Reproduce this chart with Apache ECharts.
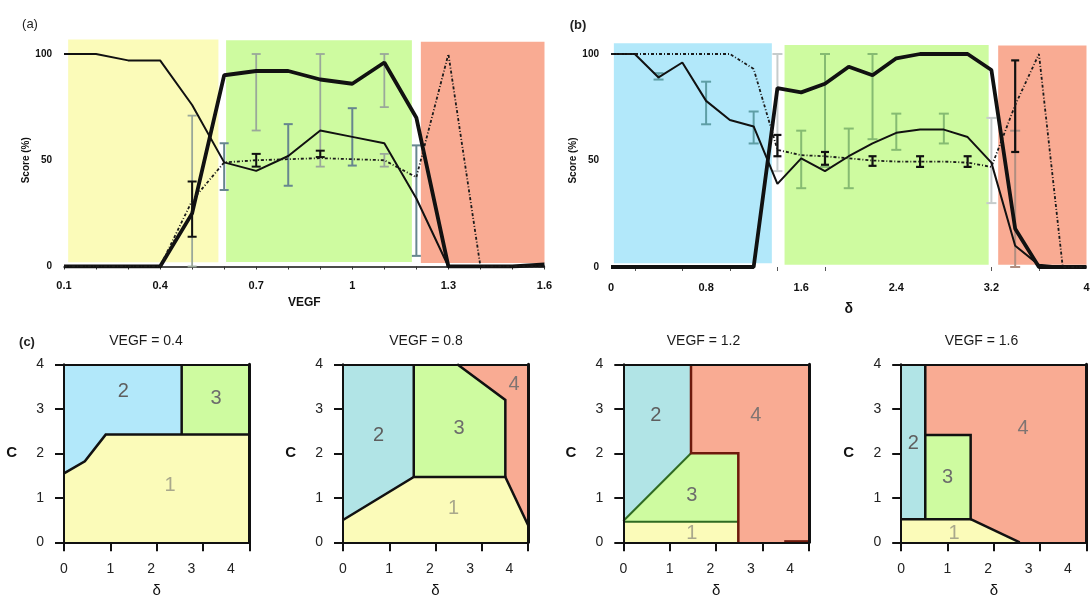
<!DOCTYPE html>
<html><head><meta charset="utf-8">
<script src="https://cdn.jsdelivr.net/npm/echarts@6/dist/echarts.min.js"></script>
<style>html,body{margin:0;padding:0;background:#fff}#c{width:1091px;height:603px}</style>
</head><body><div id="c"></div>
<script>
// ---------- Panel (a): scores vs VEGF ----------
const aVegf   = [0.1,0.2,0.3,0.4,0.5,0.6,0.7,0.8,0.9,1.0,1.1,1.2,1.3,1.4,1.5,1.6];
const aThin   = [100,100,97,97,76,49,45,52,64,61,58,32,0,0,0,0];
const aThick  = [0,0,0,0,25,90,92,92,88,86,96,70,0,0,0,1];
const aDotted = [0,0,0,0,31,49,50,50.5,51,50.5,50,42,100,0,0,0];
// outcome class, x from, x to, y from, y to
const aBands  = [[1,0.113,0.582,2,106.8],[3,0.606,1.186,2.1,106.5],[4,1.214,1.6,1.6,105.8]];
// error bars: [x, low, high]
const aErrLight = [[0.5,0,71],[0.7,64,100],[0.9,47,100],[1.1,75,100],[1.1,47,53]];
const aErrSlate = [[0.6,36,58],[0.8,38,67],[1.0,47.5,74.5],[1.2,5,57]];
const aErrBlack = [[0.5,14,40],[0.7,47,53],[0.9,51.5,54.5]];
const aTickLabels = [0.1,0.4,0.7,1,1.3,1.6];

// ---------- Panel (b): scores vs delta ----------
const bDelta  = [0,0.2,0.4,0.6,0.8,1.0,1.2,1.4,1.6,1.8,2.0,2.2,2.4,2.6,2.8,3.0,3.2,3.4,3.6,3.8,4.0];
const bThin   = [100,100,89,96,78,69,66,39,51,45,52,58,63,64.5,64.5,61,49,10,1,0,0];
const bThick  = [0,0,0,0,0,0,0,84,82,86,94,90,98,100,100,100,92.5,18,0,0,0];
const bDotted = [100,100,100,100,100,100,93,55,52.5,52,51,50,49.5,49.5,49.5,49,47,76,100,0,0];
const bBands  = [[2,0.024,1.353,1.8,105],[3,1.46,3.177,1,104.2],[4,3.257,4.0,1,104]];
const bErrTeal  = [[0.4,88,91],[0.8,67,87],[1.2,58,73]];
const bErrLight = [[1.4,45,100],[3.2,30,70]];
const bErrGreen = [[1.6,37,64],[1.8,47,100],[2.0,37,65],[2.2,60,100],[2.4,55,72],[2.8,58,72]];
const bErrBlack = [[1.4,52,62],[1.8,48,54],[2.2,47.5,52],[2.6,47,52],[3.0,47,52],[3.4,54,97]];
const bErrMuted = [[3.4,0,64]];
const bTickLabels = [0,0.8,1.6,2.4,3.2,4];
const bTickMarks  = [0.2,0.6,1.0,1.4,1.8,3.2,3.6];

// ---------- Panel (c): outcome regions in (delta, C) ----------
const cTitles = ['VEGF = 0.4','VEGF = 0.8','VEGF = 1.2','VEGF = 1.6'];
const cLabelPos  = [0,1,1.88,2.75,3.6];
const cLabelText = ['0','1','2','3','4'];
const c1Regions = [
  [1, [[0,0],[4,0],[4,2.42],[0.9,2.42],[0.45,1.82],[0,1.55]]],
  [2, [[0,1.55],[0.45,1.82],[0.9,2.42],[2.54,2.42],[2.54,4],[0,4]]],
  [3, [[2.54,2.42],[4,2.42],[4,4],[2.54,4]]]
];
const c1Borders = [[[0,1.55],[0.45,1.82],[0.9,2.42],[4,2.42]], [[2.54,2.42],[2.54,4]]];
const c1Labels = [[1,2.29,1.27],[2,1.28,3.38],[3,3.28,3.24]];

const c2Regions = [
  [1, [[0,0],[4,0],[4,0.39],[3.51,1.47],[1.53,1.47],[0,0.5]]],
  [2, [[0,0.5],[1.53,1.47],[1.53,4],[0,4]]],
  [3, [[1.53,1.47],[3.51,1.47],[3.51,3.2],[2.47,4],[1.53,4]]],
  [4, [[2.47,4],[4,4],[4,0.39],[3.51,1.47],[3.51,3.2]]]
];
const c2Borders = [[[0,0.5],[1.53,1.47],[3.51,1.47],[4,0.39]], [[1.53,1.47],[1.53,4]], [[2.47,4],[3.51,3.2],[3.51,1.47]]];
const c2Labels = [[1,2.39,0.76],[2,0.77,2.41],[3,2.51,2.56],[4,3.7,3.54]];

const c3Regions = [
  [1, [[0,0],[2.48,0],[2.48,0.46],[0,0.46]]],
  [3, [[0,0.46],[2.48,0.46],[2.48,2.0],[1.46,2.0]]],
  [2, [[0,0.46],[1.46,2.0],[1.46,4],[0,4]]],
  [4, [[1.46,4],[4,4],[4,0],[2.48,0],[2.48,2.0],[1.46,2.0]]]
];
const c3BordersGreen = [[[0,0.48],[1.46,2.0]], [[0,0.46],[2.48,0.46]]];
const c3BordersRed   = [[[1.46,4],[1.46,2.0],[2.48,2.0],[2.48,0]], [[3.47,0.02],[4,0.02]]];
const c3Labels = [[1,1.48,0.2],[2,0.7,2.86],[3,1.48,1.06],[4,2.86,2.86]];

const c4Regions = [
  [1, [[0,0],[2.56,0],[1.5,0.52],[0,0.52]]],
  [2, [[0,0.52],[0.52,0.52],[0.52,4],[0,4]]],
  [3, [[0.52,0.52],[1.5,0.52],[1.5,2.41],[0.52,2.41]]],
  [4, [[0.52,4],[4,4],[4,0],[2.56,0],[1.5,0.52],[1.5,2.41],[0.52,2.41]]]
];
const c4Borders = [[[0.52,4],[0.52,0.52]], [[0,0.52],[1.5,0.52],[1.5,2.41],[0.52,2.41]], [[1.5,0.52],[2.56,0]]];
const c4Labels = [[1,1.14,0.2],[2,0.26,2.22],[3,1.0,1.45],[4,2.63,2.56]];

// ---------- styles ----------
const FONT = '"Liberation Sans", Arial, sans-serif';
const COL = {1:'#fbfbb9', 2:'#b2e8fa', 3:'#cefba0', 4:'#f9ab93'};
const COL_T = {1:'#fbfbb9', 2:'#b1e4e6', 3:'#cefba0', 4:'#f9ab93'};
const NUMCOL = {1:'#a9a88c', 2:'#5e5e5e', 3:'#6c6c6c', 4:'#7f7472'};

function bandSeries(i, bands, pal) {
  return {type:'custom', xAxisIndex:i, yAxisIndex:i, z:1, clip:false, silent:true,
    data: bands.map(b => [b[1], b[3], b[2], b[4], b[0]]),
    renderItem: (p, api) => {
      const tl = api.coord([api.value(0), api.value(3)]);
      const br = api.coord([api.value(2), api.value(1)]);
      return {type:'rect', shape:{x:tl[0], y:tl[1], width:br[0]-tl[0], height:br[1]-tl[1]},
              style:{fill: pal[api.value(4)]}};
    }};
}
function errSeries(i, data, color, lw, hw) {
  return {type:'custom', xAxisIndex:i, yAxisIndex:i, z:3, clip:false, silent:true, data,
    encode:{x:0, y:[1,2]},
    renderItem: (p, api) => {
      const x = api.value(0);
      const lo = api.coord([x, api.value(1)]), hi = api.coord([x, api.value(2)]);
      const st = {stroke:color, lineWidth:lw};
      return {type:'group', children:[
        {type:'line', shape:{x1:lo[0], y1:lo[1], x2:hi[0], y2:hi[1]}, style:st},
        {type:'line', shape:{x1:lo[0]-hw, y1:lo[1], x2:lo[0]+hw, y2:lo[1]}, style:st},
        {type:'line', shape:{x1:hi[0]-hw, y1:hi[1], x2:hi[0]+hw, y2:hi[1]}, style:st}
      ]};
    }};
}
function lineSeries(i, xs, ys, style) {
  return {type:'line', xAxisIndex:i, yAxisIndex:i, z:5, silent:true, symbol:'none',
    data: xs.map((x, k) => [x, ys[k]]), lineStyle: style};
}
function regionSeries(i, regions, pal) {
  return {type:'custom', xAxisIndex:i, yAxisIndex:i, z:1, silent:true,
    data: regions.map(r => r[1][0]),
    renderItem: (p, api) => {
      const r = regions[p.dataIndex];
      return {type:'polygon', shape:{points: r[1].map(pt => api.coord(pt))}, style:{fill: pal[r[0]]}};
    }};
}
function borderSeries(i, lines, color, lw) {
  return {type:'custom', xAxisIndex:i, yAxisIndex:i, z:3, silent:true, clip:false,
    data: lines.map(l => l[0]),
    renderItem: (p, api) => ({type:'polyline',
      shape:{points: lines[p.dataIndex].map(pt => api.coord(pt))},
      style:{stroke:color, lineWidth:lw, fill:null, lineJoin:'miter'}})};
}
function numSeries(i, labels) {
  return {type:'custom', xAxisIndex:i, yAxisIndex:i, z:4, silent:true,
    data: labels.map(l => [l[1], l[2], l[0]]),
    renderItem: (p, api) => {
      const pt = api.coord([api.value(0), api.value(1)]);
      const n = api.value(2);
      return {type:'text', x:pt[0], y:pt[1], style:{text:String(n), fill:NUMCOL[n],
        font:'20px ' + FONT, align:'center', verticalAlign:'middle'}};
    }};
}

const grids = [
  {left:64, top:54, width:480.5, height:212.5},
  {left:611, top:54, width:475.5, height:213},
  {left:64, top:364.3, width:185.3, height:178},
  {left:343, top:364.3, width:185, height:178},
  {left:623.3, top:364.3, width:185.5, height:178},
  {left:901.2, top:364.3, width:185.2, height:178}
].map(g => Object.assign({outerBoundsMode:'none', containLabel:false}, g));

const dark = '#111';
const xAxes = [
  {type:'value', gridIndex:0, min:0.1, max:1.6, interval:0.1,
   axisLine:{show:true, lineStyle:{color:dark, width:1.5}},
   axisTick:{show:true, length:3, lineStyle:{color:'#333', width:1}},
   axisLabel:{customValues:aTickLabels, fontSize:11, fontWeight:'bold', color:dark, margin:14},
   splitLine:{show:false}, name:'VEGF', nameLocation:'middle', nameGap:30,
   nameTextStyle:{fontSize:12, fontWeight:'bold', color:dark}},
  {type:'value', gridIndex:1, min:0, max:4,
   axisLine:{show:false},
   axisTick:{show:true, customValues:bTickMarks, length:4, lineStyle:{color:'#555', width:1}},
   axisLabel:{customValues:bTickLabels, fontSize:11, fontWeight:'bold', color:dark, margin:15},
   splitLine:{show:false}, name:'δ', nameLocation:'middle', nameGap:35,
   nameTextStyle:{fontSize:14, fontWeight:'bold', color:dark}}
];
const yAxes = [0,1].map(i => ({type:'value', gridIndex:i, min:0, max:100, interval:50,
   axisLine:{show:false}, axisTick:{show:false},
   axisLabel:{fontSize:10, fontWeight:'bold', color:dark, margin:12},
   splitLine:{show:false}, name:'Score (%)', nameLocation:'middle', nameRotate:90, nameGap:33,
   nameTextStyle:{fontSize:10, fontWeight:'bold', color:dark}}));

for (let k = 0; k < 4; k++) {
  xAxes.push({type:'value', gridIndex:2+k, min:0, max:4, interval:1, z:10,
    axisLine:{show:true, onZero:false, lineStyle:{color:dark, width:2}},
    axisTick:{show:true, length:9, lineStyle:{color:dark, width:2}},
    axisLabel:{customValues:cLabelPos, fontSize:14, color:'#222', margin:20,
      formatter: v => {
        let best = 0;
        cLabelPos.forEach((p, j) => { if (Math.abs(p - v) < Math.abs(cLabelPos[best] - v)) best = j; });
        return cLabelText[best];
      }},
    splitLine:{show:false}, name:'δ', nameLocation:'middle', nameGap:41,
    nameTextStyle:{fontSize:15, color:dark}});
  yAxes.push({type:'value', gridIndex:2+k, min:0, max:4, interval:1, z:10,
    axisLine:{show:true, onZero:false, lineStyle:{color:dark, width:2}},
    axisTick:{show:true, length:9, lineStyle:{color:dark, width:2}},
    axisLabel:{fontSize:14, color:'#222', margin:20},
    splitLine:{show:false}, name:'C', nameLocation:'middle', nameRotate:0, nameGap:47,
    nameTextStyle:{fontSize:15, fontWeight:'bold', color:dark}});
}
for (let k = 0; k < 4; k++) {
  xAxes.push({type:'value', gridIndex:2+k, min:0, max:4, position:'top', z:10,
    axisLine:{show:true, onZero:false, lineStyle:{color:dark, width:2}},
    axisTick:{show:false}, axisLabel:{show:false}, splitLine:{show:false}});
  yAxes.push({type:'value', gridIndex:2+k, min:0, max:4, position:'right', z:10,
    axisLine:{show:true, onZero:false, lineStyle:{color:dark, width:3}},
    axisTick:{show:false}, axisLabel:{show:false}, splitLine:{show:false}});
}

const thinStyle  = {color:'#111', width:2};
const thickStyle = {color:'#111', width:3.8};
const dotStyle   = {color:'#1a1a1a', width:1.8, type:[3,2,1,2]};

const series = [
  bandSeries(0, aBands, COL),
  errSeries(0, aErrLight, '#9aa89a', 1.8, 4.5),
  errSeries(0, aErrSlate, '#67868f', 2, 4.5),
  errSeries(0, aErrBlack, '#111', 2, 4.5),
  lineSeries(0, aVegf, aThin, thinStyle),
  lineSeries(0, aVegf, aThick, thickStyle),
  lineSeries(0, aVegf, aDotted, dotStyle),

  bandSeries(1, bBands, COL),
  errSeries(1, bErrTeal, '#5e9ea5', 2, 5),
  errSeries(1, bErrLight, '#c6cccc', 2, 5),
  errSeries(1, bErrGreen, '#86bb72', 2, 5),
  errSeries(1, bErrMuted, '#b08e80', 2, 5),
  errSeries(1, bErrBlack, '#111', 2.2, 4),
  lineSeries(1, bDelta, bThin, thinStyle),
  lineSeries(1, bDelta, bThick, thickStyle),
  lineSeries(1, bDelta, bDotted, dotStyle),

  regionSeries(2, c1Regions, COL),
  borderSeries(2, c1Borders, dark, 2.5),
  numSeries(2, c1Labels),
  regionSeries(3, c2Regions, COL_T),
  borderSeries(3, c2Borders, dark, 2.5),
  numSeries(3, c2Labels),
  regionSeries(4, c3Regions, COL_T),
  borderSeries(4, c3BordersGreen, '#2f6a22', 2),
  borderSeries(4, c3BordersRed, '#6e1a0c', 2.5),
  numSeries(4, c3Labels),
  regionSeries(5, c4Regions, COL_T),
  borderSeries(5, c4Borders, dark, 2.5),
  numSeries(5, c4Labels)
];

const titleX = [146, 426, 703.5, 981.5];
const graphic = [
  {type:'text', x:30, y:24, style:{text:'(a)', font:'13px ' + FONT, fill:'#222', align:'center', verticalAlign:'middle'}},
  {type:'text', x:578, y:25, style:{text:'(b)', font:'bold 13px ' + FONT, fill:'#222', align:'center', verticalAlign:'middle'}},
  {type:'text', x:27, y:342, style:{text:'(c)', font:'bold 13px ' + FONT, fill:'#222', align:'center', verticalAlign:'middle'}}
].concat(cTitles.map((t, k) => ({type:'text', x:titleX[k], y:341.5,
  style:{text:t, font:'14px ' + FONT, fill:'#1a1a1a', align:'center', verticalAlign:'middle'}})));

const chart = echarts.init(document.getElementById('c'), null, {renderer:'canvas'});
chart.setOption({
  animation:false,
  backgroundColor:'#fff',
  textStyle:{fontFamily:FONT},
  grid:grids, xAxis:xAxes, yAxis:yAxes, series, graphic
});
</script></body></html>
